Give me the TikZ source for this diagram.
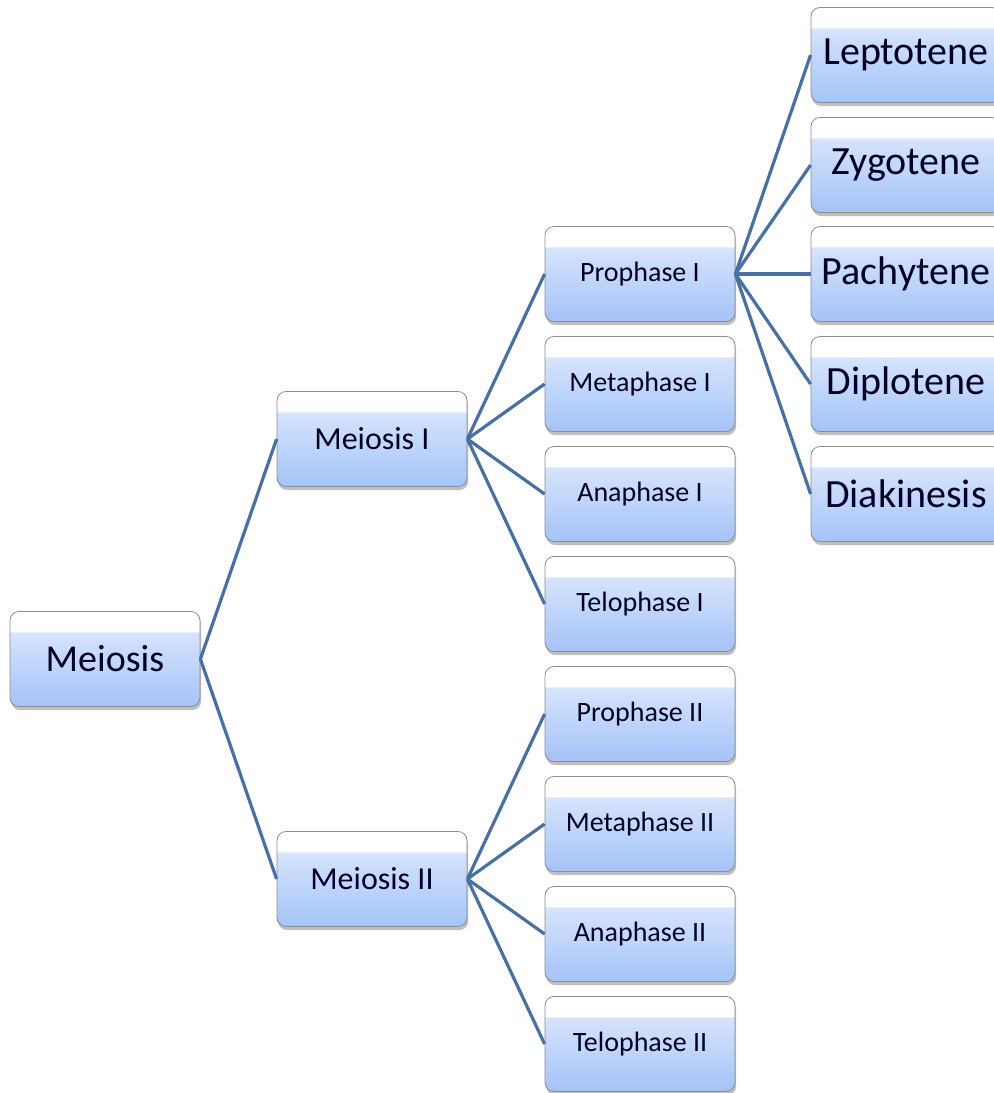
\documentclass[tikz,border=0pt]{standalone}
\usepackage{fontspec}
\setmainfont{Carlito}
\usetikzlibrary{shadows}

\definecolor{boxtop}{RGB}{214,228,252}
\definecolor{boxbot}{RGB}{164,195,248}
\definecolor{linkblue}{RGB}{74,111,163}

\pgfdeclareverticalshading{phaseshade}{100bp}{color(0bp)=(boxbot); color(25bp)=(boxbot); color(64bp)=(boxtop); color(64.5bp)=(white); color(100bp)=(white)}

\tikzset{
    phase/.style={draw=gray!90, rounded corners=4.5pt, shading=phaseshade,
        minimum width=95pt, minimum height=47.5pt, inner sep=0pt,
        drop shadow={opacity=0.5, shadow xshift=0.6pt, shadow yshift=-1.8pt},
        text=black!85!blue, font=\fontsize{14}{16}\selectfont},
    link/.style={draw=linkblue, line width=1.6pt}
}

\begin{document}
\begin{tikzpicture}[x=0.5pt,y=-0.5pt]
    \useasboundingbox (0,0) rectangle (994,1093);

    \node[phase,font=\fontsize{19}{22}\selectfont] (meiosis) at (105,659) {Meiosis};
    \node[phase,font=\fontsize{16}{19}\selectfont] (mI) at (372,439) {Meiosis I};
    \node[phase,font=\fontsize{16}{19}\selectfont] (mII) at (372,879) {Meiosis II};

    % phases of meiosis I and II
    \foreach \n/\y/\txt in {proI/274/Prophase I,metI/384/Metaphase I,anaI/494/Anaphase I,telI/604/Telophase I,
        proII/714/Prophase II,metII/824/Metaphase II,anaII/934/Anaphase II,telII/1044/Telophase II}{
        \node[phase] (\n) at (640,\y) {\txt};
    }

    % substages of prophase I
    \foreach \n/\y/\txt in {lep/55/Leptotene,zyg/165/Zygotene,pac/274/Pachytene,dip/384/Diplotene,dia/494/Diakinesis}{
        \node[phase,font=\fontsize{20}{24}\selectfont] (\n) at (906,\y) {\txt};
    }

    \draw[link] (meiosis.east) -- (mI.west);
    \draw[link] (meiosis.east) -- (mII.west);
    \foreach \n in {proI,metI,anaI,telI}
        \draw[link] (mI.east) -- (\n.west);
    \foreach \n in {proII,metII,anaII,telII}
        \draw[link] (mII.east) -- (\n.west);
    \foreach \n in {lep,zyg,pac,dip,dia}
        \draw[link] (proI.east) -- (\n.west);
\end{tikzpicture}
\end{document}
